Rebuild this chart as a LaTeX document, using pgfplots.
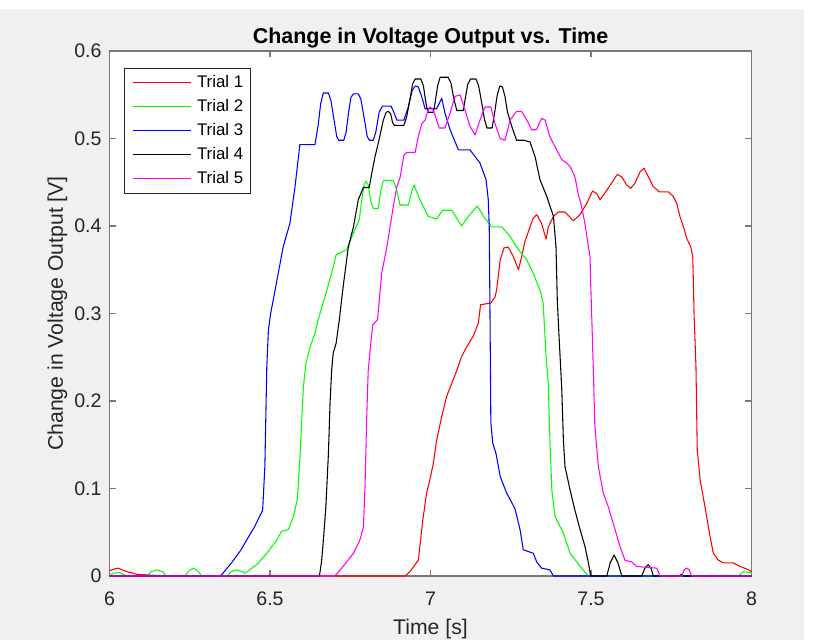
\documentclass[border=0pt]{standalone}
\usepackage{pgfplots}
\pgfplotsset{compat=1.18}
\usepackage{fontspec}
\setmainfont{Liberation Sans}
\definecolor{figbg}{RGB}{240,240,240}
\definecolor{axcol}{RGB}{38,38,38}
\definecolor{boxcol}{RGB}{120,120,120}
\definecolor{mred}{RGB}{255,0,0}
\definecolor{mgreen}{RGB}{0,255,0}
\definecolor{mblue}{RGB}{0,0,255}
\definecolor{mmag}{RGB}{255,0,255}
\begin{document}
\begin{tikzpicture}[x=0.75pt,y=0.75pt]
\useasboundingbox (0,0) rectangle (814,640);
\fill[white] (0,0) rectangle (814,640);
\fill[figbg] (0,0) rectangle (804,631);
\begin{axis}[
  at={(82.125pt,48pt)}, anchor=south west,
  width=481.5pt, height=393.75pt, scale only axis,
  xmin=6, xmax=8, ymin=0, ymax=0.6,
  clip=false,
  axis background/.style={fill=white},
  xtick={6,6.5,7,7.5,8},
  ytick={0,0.1,0.2,0.3,0.4,0.5,0.6},
  /pgf/number format/.cd, fixed, precision=1, assume math mode=true, /pgfplots/.cd,
  tick align=inside,
  major tick length=4.8pt,
  tick style={boxcol, line width=0.8pt},
  axis line style={boxcol, line width=0.8pt},
  ticklabel style={font=\fontsize{14.7}{17}\selectfont, text=axcol},
  xticklabel style={anchor=base, yshift=-22pt, inner sep=0pt},
  yticklabel style={anchor=east, xshift=-5.8pt, inner sep=0pt},
  every axis title/.style={at={(axis description cs:0.5,1)}, anchor=base, yshift=5.3pt, font=\fontsize{16.1}{19}\selectfont\bfseries},
  every axis x label/.style={at={(axis description cs:0.5,0)}, anchor=base, yshift=-44pt, font=\fontsize{15.9}{19}\selectfont, text=axcol},
  every axis y label/.style={at={(axis description cs:-0.081,0.5)}, anchor=center, rotate=90, font=\fontsize{15.9}{19}\selectfont, text=axcol},
  title={Change in Voltage Output vs. Time},
  xlabel={Time [s]},
  ylabel={Change in Voltage Output [V]},
  legend cell align=left,
  legend style={at={(0.023,0.967)}, anchor=north west, draw=axcol, line width=0.4pt, fill=white,
    inner xsep=5.6pt, inner ysep=4.4pt, font=\fontsize{12.6}{15}\selectfont,
    nodes={inner sep=0pt, text height=9.5pt, text depth=3pt},
    row sep=5.5pt, column sep=4.5pt},
  legend image code/.code={\draw[#1, line width=0.8pt] (0pt,0pt) -- (43.5pt,0pt);},
  every axis plot/.append style={line width=0.8pt, line join=round},
]
\addplot[mred] coordinates {
(6.000,0.006) (6.015,0.008) (6.027,0.009) (6.040,0.007) (6.054,0.005) (6.085,0.002) (6.130,0.001) (6.178,0) (6.921,0) (6.936,0.005) (6.952,0.013) (6.962,0.018) (6.967,0.034) (6.976,0.064) (6.988,0.095) (6.998,0.110) (7.009,0.129) (7.019,0.155) (7.035,0.182) (7.050,0.205) (7.066,0.220) (7.082,0.235) (7.097,0.251) (7.113,0.262) (7.133,0.274) (7.149,0.289) (7.156,0.310) (7.188,0.312) (7.201,0.319) (7.206,0.327) (7.217,0.361) (7.229,0.375) (7.242,0.376) (7.258,0.365) (7.274,0.350) (7.284,0.365) (7.294,0.382) (7.310,0.399) (7.320,0.409) (7.331,0.413) (7.346,0.403) (7.360,0.385) (7.367,0.399) (7.383,0.411) (7.398,0.416) (7.419,0.416) (7.445,0.406) (7.466,0.413) (7.487,0.426) (7.505,0.440) (7.518,0.437) (7.528,0.430) (7.538,0.435) (7.564,0.449) (7.582,0.459) (7.596,0.456) (7.611,0.447) (7.624,0.443) (7.637,0.449) (7.653,0.462) (7.665,0.466) (7.679,0.456) (7.694,0.445) (7.713,0.439) (7.741,0.439) (7.756,0.434) (7.767,0.426) (7.777,0.411) (7.790,0.397) (7.798,0.386) (7.811,0.376) (7.817,0.365) (7.819,0.335) (7.821,0.300) (7.827,0.239) (7.831,0.144) (7.840,0.110) (7.855,0.079) (7.869,0.049) (7.881,0.026) (7.897,0.018) (7.912,0.015) (7.943,0.015) (7.964,0.011) (7.985,0.008) (8.000,0.005)
};
\addlegendentry{Trial 1}
\addplot[mgreen] coordinates {
(6.000,0.000) (6.010,0.003) (6.030,0.004) (6.054,0.000) (6.116,0.000) (6.130,0.005) (6.147,0.007) (6.165,0.005) (6.178,0.000) (6.235,0.000) (6.248,0.006) (6.261,0.009) (6.275,0.006) (6.287,0.000) (6.365,0.000) (6.380,0.005) (6.396,0.007) (6.412,0.005) (6.422,0.003) (6.440,0.008) (6.459,0.013) (6.490,0.026) (6.521,0.041) (6.536,0.051) (6.557,0.053) (6.573,0.068) (6.585,0.087) (6.593,0.133) (6.599,0.178) (6.604,0.216) (6.612,0.243) (6.625,0.262) (6.640,0.277) (6.650,0.293) (6.671,0.319) (6.692,0.346) (6.706,0.367) (6.739,0.373) (6.760,0.392) (6.778,0.407) (6.786,0.430) (6.793,0.447) (6.799,0.451) (6.806,0.447) (6.814,0.428) (6.822,0.420) (6.837,0.420) (6.845,0.440) (6.853,0.452) (6.884,0.452) (6.895,0.441) (6.905,0.424) (6.931,0.424) (6.942,0.440) (6.949,0.447) (6.956,0.440) (6.967,0.430) (6.993,0.411) (7.019,0.408) (7.038,0.418) (7.066,0.418) (7.097,0.400) (7.118,0.411) (7.146,0.423) (7.165,0.411) (7.191,0.399) (7.222,0.399) (7.248,0.388) (7.274,0.373) (7.300,0.361) (7.320,0.346) (7.341,0.327) (7.351,0.312) (7.360,0.251) (7.367,0.220) (7.372,0.155) (7.378,0.098) (7.388,0.068) (7.414,0.049) (7.435,0.026) (7.466,0.011) (7.492,0.000) (7.959,0.000) (7.975,0.005) (7.995,0.004) (8.000,0.003)
};
\addlegendentry{Trial 2}
\addplot[mblue] coordinates {
(6.000,0) (6.346,0) (6.380,0.015) (6.410,0.030) (6.427,0.041) (6.450,0.055) (6.477,0.075) (6.484,0.125) (6.490,0.239) (6.495,0.281) (6.502,0.300) (6.516,0.327) (6.541,0.376) (6.562,0.403) (6.578,0.445) (6.593,0.493) (6.640,0.493) (6.650,0.515) (6.658,0.540) (6.666,0.552) (6.682,0.552) (6.690,0.543) (6.700,0.520) (6.708,0.502) (6.714,0.498) (6.730,0.498) (6.737,0.507) (6.745,0.530) (6.752,0.547) (6.760,0.551) (6.775,0.551) (6.783,0.545) (6.795,0.520) (6.803,0.502) (6.810,0.498) (6.822,0.498) (6.830,0.508) (6.840,0.530) (6.850,0.537) (6.877,0.537) (6.886,0.530) (6.895,0.521) (6.917,0.521) (6.930,0.535) (6.943,0.555) (6.952,0.560) (6.962,0.559) (6.975,0.545) (6.983,0.534) (7.019,0.534) (7.035,0.546) (7.045,0.529) (7.061,0.510) (7.087,0.487) (7.123,0.487) (7.154,0.472) (7.173,0.453) (7.180,0.430) (7.183,0.399) (7.185,0.315) (7.188,0.175) (7.194,0.152) (7.204,0.140) (7.217,0.114) (7.237,0.095) (7.263,0.077) (7.279,0.053) (7.289,0.030) (7.320,0.026) (7.331,0.016) (7.346,0.009) (7.372,0.007) (7.383,0) (8.000,0)
};
\addlegendentry{Trial 3}
\addplot[black] coordinates {
(6.000,0) (6.654,0) (6.661,0.018) (6.668,0.049) (6.674,0.079) (6.682,0.140) (6.687,0.197) (6.692,0.235) (6.697,0.255) (6.706,0.266) (6.713,0.285) (6.716,0.293) (6.728,0.331) (6.744,0.376) (6.760,0.399) (6.775,0.430) (6.791,0.444) (6.809,0.444) (6.817,0.460) (6.827,0.479) (6.837,0.494) (6.853,0.521) (6.862,0.530) (6.869,0.531) (6.876,0.528) (6.882,0.518) (6.888,0.515) (6.917,0.515) (6.926,0.525) (6.936,0.545) (6.944,0.562) (6.952,0.568) (6.970,0.568) (6.978,0.560) (6.986,0.540) (6.992,0.530) (7.009,0.530) (7.014,0.540) (7.022,0.560) (7.030,0.570) (7.055,0.570) (7.064,0.563) (7.073,0.545) (7.082,0.532) (7.102,0.532) (7.108,0.545) (7.116,0.562) (7.125,0.568) (7.142,0.568) (7.150,0.560) (7.160,0.540) (7.168,0.522) (7.176,0.512) (7.192,0.512) (7.200,0.530) (7.208,0.550) (7.216,0.560) (7.224,0.559) (7.232,0.548) (7.240,0.530) (7.253,0.514) (7.268,0.498) (7.291,0.498) (7.310,0.496) (7.326,0.479) (7.341,0.453) (7.362,0.434) (7.383,0.411) (7.391,0.376) (7.395,0.315) (7.401,0.270) (7.409,0.213) (7.414,0.155) (7.419,0.125) (7.435,0.098) (7.450,0.075) (7.466,0.053) (7.481,0.034) (7.492,0.015) (7.499,0) (7.549,0) (7.560,0.015) (7.572,0.024) (7.584,0.015) (7.596,0) (7.658,0) (7.668,0.009) (7.678,0.013) (7.688,0.008) (7.694,0) (7.775,0) (7.782,0.002) (7.790,0) (8.000,0)
};
\addlegendentry{Trial 4}
\addplot[mmag] coordinates {
(6.000,0) (6.702,0) (6.728,0.011) (6.760,0.026) (6.780,0.041) (6.791,0.056) (6.796,0.102) (6.801,0.178) (6.806,0.235) (6.814,0.266) (6.820,0.287) (6.835,0.293) (6.848,0.346) (6.864,0.376) (6.874,0.399) (6.884,0.422) (6.895,0.445) (6.905,0.455) (6.917,0.481) (6.926,0.484) (6.952,0.484) (6.962,0.502) (6.973,0.517) (6.983,0.521) (6.992,0.532) (6.998,0.536) (7.006,0.534) (7.014,0.527) (7.027,0.512) (7.045,0.512) (7.061,0.529) (7.076,0.548) (7.092,0.550) (7.107,0.533) (7.123,0.514) (7.139,0.504) (7.154,0.521) (7.170,0.536) (7.188,0.536) (7.201,0.517) (7.217,0.500) (7.232,0.498) (7.248,0.521) (7.268,0.531) (7.284,0.531) (7.300,0.521) (7.315,0.510) (7.330,0.510) (7.346,0.523) (7.357,0.521) (7.372,0.502) (7.393,0.487) (7.409,0.476) (7.424,0.472) (7.435,0.468) (7.450,0.456) (7.460,0.437) (7.471,0.422) (7.481,0.403) (7.492,0.376) (7.497,0.365) (7.499,0.335) (7.502,0.300) (7.507,0.239) (7.512,0.171) (7.523,0.125) (7.538,0.095) (7.554,0.079) (7.575,0.053) (7.590,0.034) (7.606,0.018) (7.627,0.016) (7.642,0.011) (7.668,0.010) (7.705,0.009) (7.715,0) (7.783,0) (7.790,0.007) (7.798,0.009) (7.806,0.007) (7.814,0) (8.000,0)
};
\addlegendentry{Trial 5}
\end{axis}
\end{tikzpicture}
\end{document}
